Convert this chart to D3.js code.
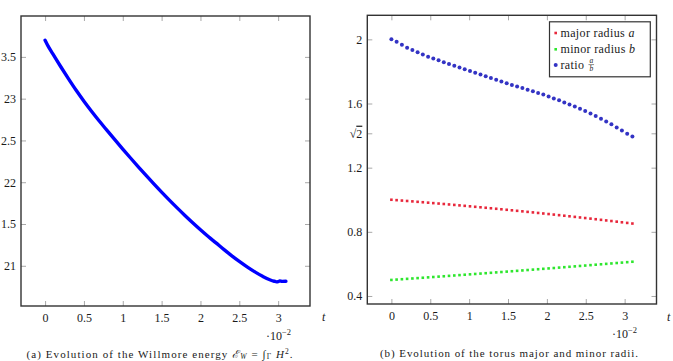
<!DOCTYPE html>
<html>
<head>
<meta charset="utf-8">
<script src="https://cdn.jsdelivr.net/npm/d3@7"></script>
<style>
  body { margin: 0; background: #fff; }
  svg { display: block; font-family: "Liberation Serif", serif; }
</style>
</head>
<body>
<svg id="vis" width="673" height="361"></svg>
<script>
// ---- data ----
// (a) Willmore energy over time (t in units of 1e-2)
var energyT = [0, 0.05, 0.1, 0.2, 0.3, 0.4, 0.5, 0.6, 0.7, 0.8, 0.9, 1.0, 1.1, 1.2, 1.3, 1.4, 1.5,
  1.6, 1.7, 1.8, 1.9, 2.0, 2.1, 2.2, 2.3, 2.4, 2.5, 2.6, 2.7, 2.8, 2.9, 2.95, 2.98, 3.0, 3.02, 3.05, 3.1];
var energy = [23.70, 23.61, 23.535, 23.385, 23.24, 23.10, 22.97, 22.847, 22.73, 22.617, 22.506, 22.397,
  22.29, 22.185, 22.082, 21.981, 21.882, 21.786, 21.693, 21.603, 21.516, 21.432, 21.351, 21.274, 21.196,
  21.122, 21.052, 20.987, 20.927, 20.874, 20.83, 20.815, 20.808, 20.81, 20.818, 20.813, 20.815];
var energyTicks = [21, 21.5, 22, 22.5, 23, 23.5];
// labels as printed in the picture (leading digit cut off by the page edge)
var energyTickLabels = ["21", "1.5", "22", "2.5", "23", "3.5"];

// (b) torus radii over time
var radiiT = [0, 0.067, 0.135, 0.202, 0.270, 0.337, 0.404, 0.472, 0.539, 0.607, 0.674, 0.741, 0.809,
  0.876, 0.943, 1.011, 1.078, 1.146, 1.213, 1.280, 1.348, 1.415, 1.483, 1.550, 1.617, 1.685, 1.752,
  1.820, 1.887, 1.954, 2.022, 2.089, 2.157, 2.224, 2.291, 2.359, 2.426, 2.493, 2.561, 2.628, 2.696,
  2.763, 2.830, 2.898, 2.965, 3.033, 3.100];
var majorRadius = [1.000, 0.9975, 0.9949, 0.9924, 0.9898, 0.9871, 0.9845, 0.9818, 0.9790, 0.9763, 0.9735,
  0.9707, 0.9678, 0.9649, 0.9620, 0.9590, 0.9560, 0.9530, 0.9500, 0.9469, 0.9438, 0.9406, 0.9374, 0.9342,
  0.9310, 0.9277, 0.9244, 0.9211, 0.9177, 0.9143, 0.9109, 0.9074, 0.9039, 0.9004, 0.8969, 0.8932, 0.8896,
  0.8860, 0.8823, 0.8786, 0.8748, 0.8711, 0.8673, 0.8634, 0.8595, 0.8556, 0.8517];
var minorRadius = [0.5000, 0.5023, 0.5045, 0.5068, 0.5091, 0.5114, 0.5137, 0.5160, 0.5183, 0.5207, 0.5230,
  0.5254, 0.5278, 0.5301, 0.5325, 0.5349, 0.5373, 0.5397, 0.5421, 0.5445, 0.5470, 0.5494, 0.5519, 0.5543,
  0.5568, 0.5593, 0.5618, 0.5643, 0.5668, 0.5693, 0.5718, 0.5743, 0.5769, 0.5795, 0.5820, 0.5846, 0.5872,
  0.5897, 0.5924, 0.5950, 0.5976, 0.6002, 0.6028, 0.6055, 0.6081, 0.6108, 0.6135];
var ratio = [2.000, 1.985, 1.966, 1.948, 1.933, 1.919, 1.905, 1.892, 1.880, 1.869, 1.858, 1.847, 1.836,
  1.825, 1.814, 1.803, 1.792, 1.781, 1.770, 1.759, 1.748, 1.737, 1.726, 1.716, 1.706, 1.696, 1.686,
  1.676, 1.666, 1.656, 1.644, 1.632, 1.620, 1.607, 1.594, 1.581, 1.567, 1.553, 1.538, 1.522, 1.505,
  1.488, 1.470, 1.451, 1.432, 1.412, 1.394];
var radiiTicks = [0.4, 0.8, 1.2, Math.SQRT2, 1.6, 2];

var timeTicks = [0, 0.5, 1, 1.5, 2, 2.5, 3];

var svg = d3.select("svg#vis");
var ink = "#1a1a1a";

// pgfplots style: enlarge the data range by 10% on each side
function enlarged(ext) {
  var pad = (ext[1] - ext[0]) * 0.1;
  return [ext[0] - pad, ext[1] + pad];
}

function drawFrame(g, x, y, xTicks, yTicks, yFormat, labelPad) {
  var x0 = x.range()[0], x1 = x.range()[1];
  var y0 = y.range()[1], y1 = y.range()[0];

  // inner ticks on all four sides
  g.append("g").attr("transform", "translate(0," + y1 + ")")
    .call(d3.axisBottom(x).tickValues(xTicks).tickSizeInner(-5).tickSizeOuter(0)
      .tickPadding(labelPad).tickFormat(d3.format("")));
  g.append("g").attr("transform", "translate(0," + y0 + ")")
    .call(d3.axisTop(x).tickValues(xTicks).tickSize(-5).tickFormat(""));
  var left = g.append("g").attr("transform", "translate(" + x0 + ",0)")
    .call(d3.axisLeft(y).tickValues(yTicks).tickSizeInner(-5).tickSizeOuter(0)
      .tickPadding(5).tickFormat(yFormat));
  g.append("g").attr("transform", "translate(" + x1 + ",0)")
    .call(d3.axisRight(y).tickValues(yTicks).tickSize(-5).tickFormat(""));

  g.selectAll(".domain").remove();
  g.selectAll("g").attr("font-family", "Liberation Serif").attr("font-size", 12);
  g.selectAll(".tick line").attr("stroke", "#a8a8a8").attr("stroke-width", 1);
  g.selectAll(".tick text").attr("fill", ink);

  g.append("rect")
    .attr("x", x0).attr("y", y0).attr("width", x1 - x0).attr("height", y1 - y0)
    .attr("fill", "none").attr("stroke", "#333").attr("stroke-width", 1.4);
  return left;
}

function timeLabels(g, xT, yT, xE, yE) {
  g.append("text").attr("x", xT).attr("y", yT)
    .style("font-size", "12px").style("font-style", "italic").attr("fill", ink).text("t");
  var e = g.append("text").attr("x", xE).attr("y", yE)
    .style("font-size", "12px").attr("fill", ink);
  e.append("tspan").text("·10");
  e.append("tspan").attr("dy", -5).style("font-size", "8.5px").text("−2");
}

// ---------------- panel (a) ----------------
var xA = d3.scaleLinear().domain(enlarged(d3.extent(energyT))).range([21, 310]);
var yA = d3.scaleLinear().domain(enlarged(d3.extent(energy))).range([306, 16]);
var gA = svg.append("g");

drawFrame(gA, xA, yA, timeTicks, energyTicks, function (d) {
  return energyTickLabels[energyTicks.indexOf(d)];
}, 7);

gA.append("path")
  .datum(d3.zip(energyT, energy))
  .attr("fill", "none")
  .attr("stroke", "#0000ff")
  .attr("stroke-width", 3.4)
  .attr("stroke-linejoin", "round")
  .attr("stroke-linecap", "round")
  .attr("d", d3.line().curve(d3.curveMonotoneX)
    .x(function (d) { return xA(d[0]); }).y(function (d) { return yA(d[1]); }));

timeLabels(gA, 322, 321, 266, 340);

var capA = gA.append("text").attr("x", 26.5).attr("y", 357.5)
  .attr("textLength", 266).attr("lengthAdjust", "spacing")
  .style("font-size", "11px").attr("fill", ink);
capA.append("tspan").text("(a) Evolution of the Willmore energy ");
capA.append("tspan").style("font-style", "italic").text("ℰ");
capA.append("tspan").attr("dy", 1.5).style("font-size", "7.5px").style("font-style", "italic").text("W");
capA.append("tspan").attr("dy", -1.5).text(" = ∫");
capA.append("tspan").attr("dy", 1.5).style("font-size", "7.5px").text("Γ");
capA.append("tspan").attr("dy", -1.5).style("font-style", "italic").text(" H");
capA.append("tspan").attr("dy", -3.5).style("font-size", "7.5px").text("2");
capA.append("tspan").attr("dy", 3.5).text(".");

// ---------------- panel (b) ----------------
var allRadii = majorRadius.concat(minorRadius, ratio);
var xB = d3.scaleLinear().domain(enlarged(d3.extent(radiiT))).range([367.3, 656.5]);
var yB = d3.scaleLinear().domain(enlarged(d3.extent(allRadii))).range([304, 15.3]);
var gB = svg.append("g");

var leftB = drawFrame(gB, xB, yB, timeTicks, radiiTicks, function (d) {
  return d === Math.SQRT2 ? "" : d3.format("")(d);
}, 7);

// sqrt(2) label with a bar over the 2
leftB.selectAll(".tick text").filter(function (d) { return d === Math.SQRT2; })
  .each(function () {
    var t = d3.select(this);
    t.append("tspan").text("√");
    t.append("tspan").style("text-decoration", "overline").text("2");
  });

var redCol = "#e8283c", greenCol = "#2ee62e", blueCol = "#3333c4";

gB.append("g").selectAll("rect")
  .data(d3.zip(radiiT, majorRadius)).enter().append("rect")
  .attr("x", function (d) { return xB(d[0]) - 1.3; })
  .attr("y", function (d) { return yB(d[1]) - 1.3; })
  .attr("width", 2.6).attr("height", 2.6).attr("fill", redCol);

gB.append("g").selectAll("rect")
  .data(d3.zip(radiiT, minorRadius)).enter().append("rect")
  .attr("x", function (d) { return xB(d[0]) - 1.3; })
  .attr("y", function (d) { return yB(d[1]) - 1.3; })
  .attr("width", 2.6).attr("height", 2.6).attr("fill", greenCol);

gB.append("g").selectAll("circle")
  .data(d3.zip(radiiT, ratio)).enter().append("circle")
  .attr("cx", function (d) { return xB(d[0]); })
  .attr("cy", function (d) { return yB(d[1]); })
  .attr("r", 2).attr("fill", blueCol);

timeLabels(gB, 667, 321, 612, 338);

gB.append("text").attr("x", 380).attr("y", 356.5)
  .attr("textLength", 258).attr("lengthAdjust", "spacing")
  .style("font-size", "11px").attr("fill", ink)
  .text("(b) Evolution of the torus major and minor radii.");

// legend
var legend = gB.append("g");
legend.append("rect").attr("x", 549.5).attr("y", 21.8).attr("width", 100.8).attr("height", 55)
  .attr("fill", "#fff").attr("stroke", "#333").attr("stroke-width", 1.2);
var legendRows = [
  { y: 33, label: "major radius ", v: "a", shape: "square", col: redCol },
  { y: 49.3, label: "minor radius ", v: "b", shape: "square", col: greenCol },
  { y: 65, label: "ratio", v: null, shape: "circle", col: blueCol }
];
var ratioText;
legendRows.forEach(function (r) {
  if (r.shape === "square") {
    legend.append("rect").attr("x", 554.4).attr("y", r.y - 1.3).attr("width", 2.6).attr("height", 2.6).attr("fill", r.col);
  } else {
    legend.append("circle").attr("cx", 555.7).attr("cy", r.y).attr("r", 2).attr("fill", r.col);
  }
  var t = legend.append("text").attr("x", 560.5).attr("y", r.y + 4)
    .style("font-size", "12px").style("letter-spacing", "0.35px").attr("fill", ink);
  t.append("tspan").text(r.label);
  if (r.v) t.append("tspan").style("font-style", "italic").text(r.v);
  else ratioText = t;
});
// the a/b fraction, placed right after "ratio"
var fx = 560.5 + ratioText.node().getComputedTextLength() + 7;
legend.append("text").attr("x", fx).attr("y", 62.8).attr("text-anchor", "middle")
  .style("font-size", "7.5px").style("font-style", "italic").attr("fill", ink).text("a");
legend.append("line").attr("x1", fx - 2.8).attr("x2", fx + 2.8).attr("y1", 64.6).attr("y2", 64.6)
  .attr("stroke", ink).attr("stroke-width", 0.5);
legend.append("text").attr("x", fx).attr("y", 70.8).attr("text-anchor", "middle")
  .style("font-size", "7.5px").style("font-style", "italic").attr("fill", ink).text("b");
</script>
</body>
</html>
